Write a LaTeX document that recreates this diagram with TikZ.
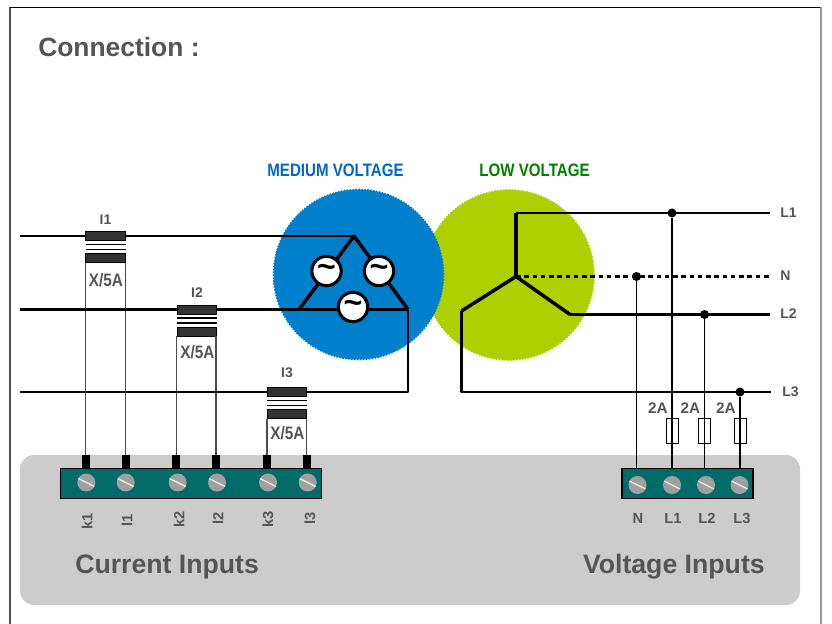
\documentclass[tikz,border=0pt]{standalone}
\usepackage{fontspec}
\setmainfont{Liberation Sans}
\usetikzlibrary{positioning, shapes, arrows.meta}
\definecolor{labelgray}{HTML}{555555}
\definecolor{mvblue}{HTML}{0080CC}
\definecolor{mvtext}{HTML}{0066CC}
\definecolor{lvgreen}{HTML}{AFD000}
\definecolor{lvtext}{HTML}{008000}
\definecolor{panelgray}{HTML}{CCCCCC}
\definecolor{blockteal}{HTML}{006B68}
\definecolor{screwgray}{HTML}{A0A0A0}
\definecolor{coregray}{HTML}{333333}
\tikzset{
  txt/.style={inner sep=0pt, text=labelgray, font=\bfseries\fontsize{#1}{#1}\selectfont},
  narrowtxt/.style={inner sep=0pt, xscale=.84, transform shape, font=\bfseries\fontsize{#1}{#1}\selectfont},
  lobe/.style={circle, inner sep=0pt, minimum size=127.5pt, line width=1.2, densely dotted},
  busline/.style={line width=2, line join=round},
  armline/.style={line width=2.6, line join=round},
  thinwire/.style={line width=.8, draw=black!70},
  sourcenode/.style={circle, draw=black, fill=white, line width=2.3, minimum size=22pt, inner sep=0pt,
    font=\bfseries\fontsize{24}{24}\selectfont},
  joint/.style={circle, fill=black, inner sep=0pt, minimum size=6.75pt},
  corebar/.style={draw=black, fill=coregray, line width=.6, inner sep=0pt, minimum width=29.5pt, minimum height=6.75pt},
  pinbar/.style={fill=black, inner sep=0pt, minimum width=6pt, minimum height=9.75pt},
  fusebox/.style={draw=black, fill=white, line width=.7, inner sep=0pt, minimum width=9pt, minimum height=18.75pt},
  termblock/.style={draw=black, fill=blockteal, line width=.8, inner sep=0pt, minimum height=22.9pt},
  screwhead/.style={circle, fill=screwgray, inner sep=0pt, minimum size=13.5pt, path picture={
    \draw[line width=1, draw=white!80!screwgray] (path picture bounding box.center) +(-9,-4.5) -- +(9,4.5);}},
}

\begin{document}
\begin{tikzpicture}[x=0.75pt, y=-0.75pt]
  \useasboundingbox (0,0) rectangle (832,624);
  % outer frame
  \coordinate (frameA) at (10,624);
  \coordinate (frameB) at (10,7.5);
  \coordinate (frameC) at (821,7.5);
  \coordinate (frameD) at (821,624);
  \draw[line width=.9, draw=black!70] (frameA) -- (frameB);
  \draw[line width=.9, draw=black] (frameB) -- (frameC);
  \draw[line width=.9, draw=black!40] (frameC) -- (frameD);
  \node[txt=19.8, anchor=west] (title) at (38,47) {Connection :};

  % transformer
  \node[lobe, fill=lvgreen, draw=lvgreen] (lvlobe) at (509,275) {};
  \node[lobe, fill=mvblue, draw=mvblue] (mvlobe) at (358.5,274.5) {};
  \node[narrowtxt=13.5, text=mvtext] (mvtitle) at (335.5,170) {MEDIUM VOLTAGE};
  \node[narrowtxt=13.5, text=lvtext] (lvtitle) at (534.5,170) {LOW VOLTAGE};

  % bottom panel
  \node[draw=none, fill=panelgray, rounded corners=10.5pt, minimum width=585pt, minimum height=112.5pt, inner sep=0pt] (panel) at (410,530) {};
  \node[txt=20, anchor=west] (currentinputs) at (75,567) {Current Inputs};
  \node[txt=20, anchor=east] (voltageinputs) at (765,567) {Voltage Inputs};

  % terminal blocks
  \node[termblock, minimum width=196pt] (currentblock) at (191,483.5) {};
  \node[termblock, minimum width=98.25pt] (voltageblock) at (687.5,483.5) {};
  \foreach \pname/\px/\sx/\tx/\ty in {k1/85.7/86.3/87/521, l1/125.7/125.7/127/520, k2/176.3/177.7/179/519,
      l2/216/217/218/518, k3/267/268/268/519, l3/306.7/307.7/310/518} {
    \node[pinbar] (pin\pname) at (\px,461.5) {};
    \node[screwhead] (screw\pname) at (\sx,482.5) {};
    \node[txt=11, rotate=90] (lab\pname) at (\tx,\ty) {\pname};
  }

  % current transformers
  \foreach \ctname/\ka/\la/\cx/\cy/\labely/\sy in {I1/k1/l1/105.5/236/220/280, I2/k2/l2/197/309.5/293/352, I3/k3/l3/287/392/373/433} {
    \node[corebar] (lower\ctname) at (\cx,\cy+22) {};
    \draw[thinwire] (pin\ka.north) -- (pin\ka.north |- lower\ctname.south);
    \draw[thinwire] (pin\la.north) -- (pin\la.north |- lower\ctname.south);
    \node[txt=13.5, xscale=.85, transform shape] (ratio\ctname) at (\cx+.5,\sy) {X/5A};
    \node[txt=10.5] (name\ctname) at (\cx,\labely) {\ctname};
  }

  % medium voltage side
  \coordinate (feedA) at (20,236);
  \coordinate (feedB) at (20,309.5);
  \coordinate (feedC) at (20,392);
  \coordinate (apex) at (354,236);
  \coordinate (vertexleft) at (299,309.5);
  \coordinate (vertexright) at (408,309.5);
  \coordinate (cornerC) at (408,392);
  \draw[busline] (feedA) -- (apex);
  \draw[busline] (vertexright) -- (feedB);
  \draw[armline] (vertexleft) -- (apex) -- (vertexright);
  \draw[busline] (vertexright) -- (cornerC) -- (feedC);
  \node[sourcenode] (srcleft) at (326.5,271) {\textasciitilde};
  \node[sourcenode] (srcright) at (379,271) {\textasciitilde};
  \node[sourcenode] (srcbottom) at (353,307) {\textasciitilde};

  \foreach \ctname/\cx/\cy in {I1/105.5/236, I2/197/309.5, I3/287/392} {
    \node[corebar] (upper\ctname) at (\cx,\cy) {};
    \coordinate (thinleft\ctname) at (\cx-20,\cy+8.5);
    \coordinate (thinright\ctname) at (\cx+20,\cy+8.5);
    \draw[line width=.8] (thinleft\ctname) -- (thinright\ctname);
    \draw[line width=.8] ([yshift=-3.75pt]thinleft\ctname) -- ([yshift=-3.75pt]thinright\ctname);
  }

  % low voltage side
  \coordinate (star) at (516,276.5);
  \coordinate (starup) at (516,213);
  \coordinate (starleft) at (461.5,311);
  \coordinate (starright) at (570,314.5);
  \coordinate (busLa) at (770,213);
  \coordinate (busN) at (770,276.5);
  \coordinate (busLb) at (770,314.5);
  \coordinate (busLc) at (771,392);
  \coordinate (downleft) at (461.5,392);
  \draw[busline] (busLa) -- (starup);
  \draw[armline] (starup) -- (star);
  \draw[armline] (starleft) -- (star) -- (starright);
  \draw[busline] (starleft) -- (downleft) -- (busLc);
  \draw[busline] (starright) -- (busLb);
  \draw[line width=2.4, dash pattern=on 3.4pt off 2.8pt] (star) -- (busN);
  \node[txt=10.5, anchor=west] (nameLa) at (780,213) {L1};
  \node[txt=10.5, anchor=west] (nameN) at (780,276) {N};
  \node[txt=10.5, anchor=west] (nameLb) at (780,314) {L2};
  \node[txt=10.5, anchor=west] (nameLc) at (782,392) {L3};

  % voltage inputs
  \node[joint] (jointN) at (636.5,276.5) {};
  \node[screwhead] (screwN) at (637.5,485) {};
  \node[txt=11, yshift=0pt] (labN) at (638,518) {N};
  \draw[line width=.8] (jointN) -- (jointN |- voltageblock.north);
  \foreach \vname/\wx/\jy/\sx/\tx/\ax in {L1/672/213/672/673/658, L2/704.5/314.5/706/707/690.5, L3/740/392/739.5/742/726} {
    \node[joint] (joint\vname) at (\wx,\jy) {};
    \node[fusebox] (fuse\vname) at (\wx,430.5) {};
    \node[txt=11.5] (amp\vname) at (\ax,408) {2A};
    \node[screwhead] (screw\vname) at (\sx,485) {};
    \node[txt=11] (lab\vname) at (\tx,518) {\vname};
    \draw[line width=.8] (joint\vname) -- (fuse\vname.south);
    \draw[line width=.8] (fuse\vname.south) -- (fuse\vname.south |- voltageblock.north);
  }
\end{tikzpicture}
\end{document}
